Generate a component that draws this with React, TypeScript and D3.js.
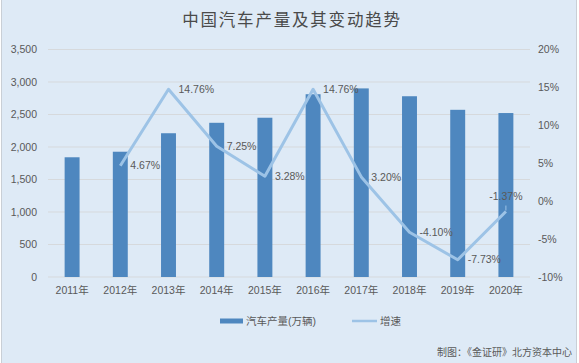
import React from "react";
import { scaleBand, scaleLinear, line } from "d3";

const years = ["2011年", "2012年", "2013年", "2014年", "2015年", "2016年", "2017年", "2018年", "2019年", "2020年"];
const production = [1841.9, 1927.2, 2211.7, 2372.3, 2450.3, 2811.9, 2901.5, 2780.9, 2572.1, 2522.5];
const growth: (number | null)[] = [null, 4.67, 14.76, 7.25, 3.28, 14.76, 3.2, -4.1, -7.73, -1.37];
const leftTicks = [0, 500, 1000, 1500, 2000, 2500, 3000, 3500];
const rightTicks = [-10, -5, 0, 5, 10, 15, 20];

const W = 579;
const H = 363;
const FONT = "'Liberation Sans', Arial, 'Noto Sans CJK SC', sans-serif";
const TXT = "#595959";

const App = () => {
  const x = scaleBand<string>().domain(years).range([48, 530]).paddingInner(0.69).paddingOuter(0.345);
  const yL = scaleLinear().domain([0, 3500]).range([277, 49.5]);
  const yR = scaleLinear().domain([-10, 20]).range([277, 49.5]);
  const cx = (i: number) => (x(years[i]) as number) + x.bandwidth() / 2;

  const pts = growth.map((g, i) => ({ i, g }));
  const growthLine = line<{ i: number; g: number | null }>()
    .defined((d) => d.g != null)
    .x((d) => cx(d.i))
    .y((d) => yR(d.g as number));

  const fmt = (v: number) => v.toLocaleString("en-US");

  return (
    <svg width={W} height={H} style={{ position: "absolute", left: 0, top: 0 }} fontFamily={FONT}>
      <rect x={0} y={0} width={W} height={H} fill="#ffffff" />
      <rect x={1.5} y={-2} width={575} height={H + 4} fill="#deeaf6" stroke="#c9cfd6" />

      <text x={292} y={22} textAnchor="middle" dominantBaseline="middle" fontSize={16.5} letterSpacing={1.8} fill="#4a4a4a">
        中国汽车产量及其变动趋势
      </text>

      {leftTicks.map((t) => (
        <g key={t}>
          <line x1={48} x2={530} y1={yL(t)} y2={yL(t)} stroke="#d6d9dc" strokeWidth={1} />
          <text x={37} y={yL(t)} textAnchor="end" dy="0.35em" fontSize={10.5} fill={TXT}>
            {fmt(t)}
          </text>
        </g>
      ))}
      {rightTicks.map((t) => (
        <text key={t} x={538} y={yR(t)} dy="0.35em" fontSize={10.5} fill={TXT}>
          {t}%
        </text>
      ))}

      {production.map((v, i) => (
        <rect key={years[i]} x={x(years[i])} y={yL(v)} width={x.bandwidth()} height={yL(0) - yL(v)} fill="#4e87bf" />
      ))}

      {years.map((yr, i) => (
        <text key={yr} x={cx(i)} y={290} textAnchor="middle" dy="0.35em" fontSize={10.5} fill={TXT}>
          {yr}
        </text>
      ))}

      <path d={growthLine(pts) || ""} fill="none" stroke="#9dc3e6" strokeWidth={3} strokeLinejoin="round" />

      {growth.map((g, i) => {
        if (g == null) return null;
        const label = g.toFixed(2) + "%";
        if (i === years.length - 1) {
          return (
            <g key={i}>
              <line x1={cx(i)} x2={cx(i)} y1={yR(g) - 6} y2={yR(g) - 1} stroke="#9dc3e6" strokeWidth={1} />
              <text x={cx(i)} y={yR(g) - 15} textAnchor="middle" dy="0.35em" fontSize={10.5} fill={TXT}>
                {label}
              </text>
            </g>
          );
        }
        return (
          <text key={i} x={cx(i) + 10} y={yR(g)} dy="0.35em" fontSize={10.5} fill={TXT}>
            {label}
          </text>
        );
      })}

      <rect x={220} y={318.5} width={23} height={5} fill="#4e87bf" />
      <text x={246} y={321} dy="0.35em" fontSize={10.5} fill={TXT}>
        汽车产量(万辆)
      </text>
      <line x1={352} x2={377} y1={321} y2={321} stroke="#9dc3e6" strokeWidth={2.5} />
      <text x={380} y={321} dy="0.35em" fontSize={10.5} fill={TXT}>
        增速
      </text>

      <text x={572} y={352} textAnchor="end" dy="0.35em" fontSize={10} fill={TXT}>
        制图：《金证研》北方资本中心
      </text>
    </svg>
  );
};

export default App;
